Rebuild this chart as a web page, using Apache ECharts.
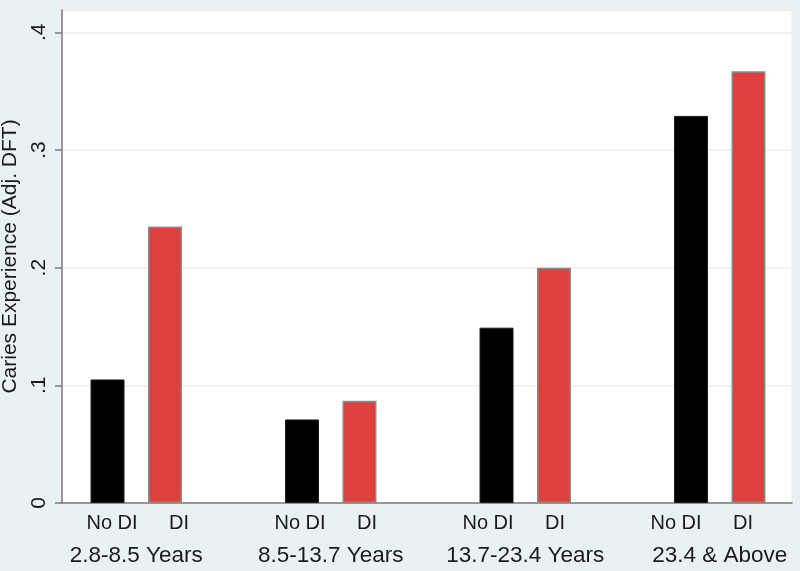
<!DOCTYPE html>
<html>
<head>
<meta charset="utf-8">
<script src="https://cdn.jsdelivr.net/npm/echarts@6/dist/echarts.min.js"></script>
<style>
    html, body { margin: 0; padding: 0; background: #eaf1f4; }
    #chart { width: 800px; height: 571px; }
</style>
</head>
<body>
<div id="chart"></div>
<script>
// age groups and adjusted DFT values
const groups = ['2.8-8.5 Years', '8.5-13.7 Years', '13.7-23.4 Years', '23.4 & Above'];
const noDI = [0.105, 0.071, 0.149, 0.329];
const withDI = [0.235, 0.087, 0.200, 0.367];
const noDILabels = ['No DI', 'No DI', 'No DI', 'No DI'];
const diLabels = ['DI', 'DI', 'DI', 'DI'];
const yMin = 0;
const yMax = 0.419;
const yStep = 0.1;

const font = 'Liberation Sans, Arial, sans-serif';

function tickText(v) {
    if (v === 0) return '0';
    if (Math.abs(v * 10 - Math.round(v * 10)) > 1e-6) return '';
    return String(+v.toFixed(1)).replace('0.', '.');
}

// the sub-labels sit on a slightly tighter pitch than the bars (as in the original figure)
function labelAxis(gridIndex, data) {
    return {
        gridIndex: gridIndex,
        type: 'category',
        data: data,
        axisLine: { show: false },
        axisTick: { show: false },
        splitLine: { show: false },
        axisLabel: { interval: 0, margin: 10, color: '#1a1a1a', fontFamily: font, fontSize: 20 },
    };
}

const option = {
    backgroundColor: '#eaf1f4',
    animation: false,
    grid: [
        // frame + y axis
        { left: 62, right: 8, top: 10, bottom: 68, outerBoundsMode: 'none', show: true, backgroundColor: '#ffffff', borderColor: '#e6e9ea', borderWidth: 1 },
        // bar layout
        { left: 39, width: 778, top: 10, bottom: 68, outerBoundsMode: 'none' },
        // "No DI" labels
        { left: 18, width: 752, top: 10, bottom: 68, outerBoundsMode: 'none' },
        // "DI" labels
        { left: 85, width: 752, top: 10, bottom: 68, outerBoundsMode: 'none' },
    ],
    xAxis: [
        {
            gridIndex: 0,
            type: 'value',
            min: 0,
            max: 1,
            axisLine: { show: true, lineStyle: { color: '#7a7a7a', width: 1.5 } },
            axisTick: { show: false },
            axisLabel: { show: false },
            splitLine: { show: false },
        },
        {
            gridIndex: 1,
            type: 'category',
            data: groups,
            axisLine: { show: false },
            axisTick: { show: false },
            axisLabel: { interval: 0, margin: 41, color: '#1a1a1a', fontFamily: font, fontSize: 22.5 },
        },
        labelAxis(2, noDILabels),
        labelAxis(3, diLabels),
    ],
    yAxis: [
        {
            gridIndex: 0,
            type: 'value',
            min: yMin,
            max: yMax,
            interval: yStep,
            name: 'Caries Experience (Adj. DFT)',
            nameLocation: 'middle',
            nameGap: 38,
            nameTextStyle: { color: '#1a1a1a', fontFamily: font, fontSize: 21 },
            axisLine: { show: true, lineStyle: { color: '#7a7a7a', width: 1.5 } },
            axisTick: { show: true, length: 7, lineStyle: { color: '#7a7a7a', width: 1.5 } },
            axisLabel: {
                rotate: 90,
                margin: 12,
                color: '#1a1a1a',
                fontFamily: font,
                fontSize: 21,
                showMaxLabel: false,
                formatter: tickText,
            },
            splitLine: { show: true, lineStyle: { color: '#ececec', width: 1.5 } },
        },
        { gridIndex: 1, type: 'value', min: yMin, max: yMax, show: false },
        { gridIndex: 2, type: 'value', min: yMin, max: yMax, show: false },
        { gridIndex: 3, type: 'value', min: yMin, max: yMax, show: false },
    ],
    series: [
        {
            name: 'No DI',
            type: 'bar',
            xAxisIndex: 1,
            yAxisIndex: 1,
            data: noDI,
            barWidth: 34,
            barGap: '69%',
            itemStyle: { color: '#000000', borderColor: '#1e1e1e', borderWidth: 1 },
        },
        {
            name: 'DI',
            type: 'bar',
            xAxisIndex: 1,
            yAxisIndex: 1,
            data: withDI,
            barWidth: 34,
            itemStyle: { color: '#dc413e', borderColor: '#8a8a8a', borderWidth: 1.5 },
        },
    ],
};

const chart = echarts.init(document.getElementById('chart'));
chart.setOption(option);
window.addEventListener('resize', () => {
    chart.resize();
});
</script>
</body>
</html>
